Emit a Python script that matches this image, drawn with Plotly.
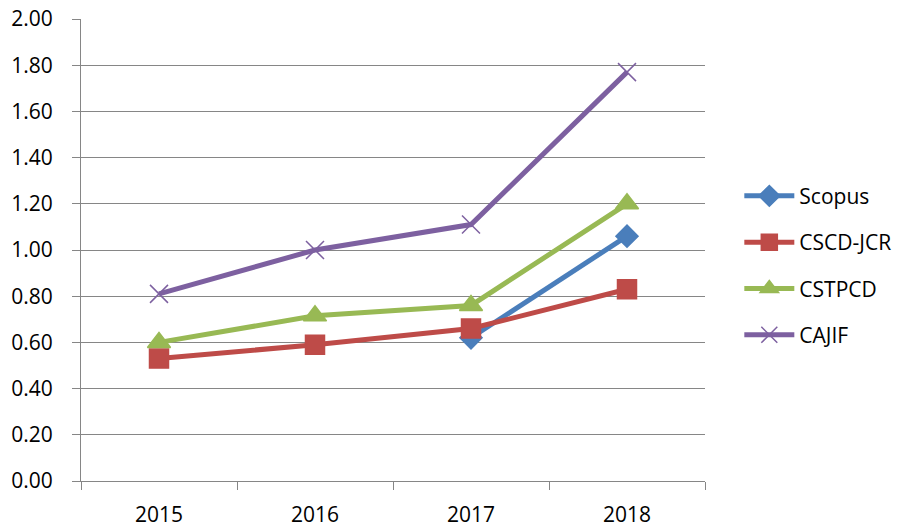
import plotly.graph_objects as go

years = ["2015", "2016", "2017", "2018"]
scopus = [None, None, 0.62, 1.06]
cscd_jcr = [0.53, 0.59, 0.66, 0.83]
cstpcd = [0.60, 0.715, 0.76, 1.20]
cajif = [0.81, 1.00, 1.11, 1.77]

series = [
    ("Scopus", scopus, "#4a7ebb", "diamond", 17),
    ("CSCD-JCR", cscd_jcr, "#be4b48", "square", 19),
    ("CSTPCD", cstpcd, "#98b954", "triangle-up", 20),
    ("CAJIF", cajif, "#7d60a0", "x-thin-open", 18),
]

fig = go.Figure()
for name, vals, color, sym, size in series:
    fig.add_trace(go.Scatter(
        x=years, y=vals, name=name, mode="lines+markers",
        line=dict(color=color, width=5),
        marker=dict(symbol=sym, size=size, color=color,
                    line=dict(color=color, width=1.5)),
        legendgroup=name,
    ))

grid = "#868686"
fig.update_layout(
    width=906, height=528,
    margin=dict(l=81, r=201, t=19, b=47, autoexpand=False),
    paper_bgcolor="white", plot_bgcolor="white",
    font=dict(family="Open Sans, Liberation Sans, sans-serif", size=21, color="black"),
    showlegend=True,
    legend=dict(x=1.055, y=0.466, xanchor="left", yanchor="middle",
                font=dict(size=21), tracegroupgap=16, itemwidth=50),
    xaxis=dict(type="category", showgrid=False, showline=True, linecolor=grid,
               ticks="outside", ticklen=8, tickcolor=grid, tickson="boundaries",
               ticklabelstandoff=15, range=[-0.5, 3.5], automargin=False),
    yaxis=dict(range=[0, 2.0], dtick=0.2, tickformat=".2f", showgrid=True,
               gridcolor=grid, gridwidth=1, showline=True, linecolor=grid,
               ticks="outside", ticklen=8, tickcolor=grid, zeroline=False,
               ticklabelstandoff=15, automargin=False),
)
fig.write_html("out.html", config={"displayModeBar": False},
               post_script="document.body.style.margin='0';")
